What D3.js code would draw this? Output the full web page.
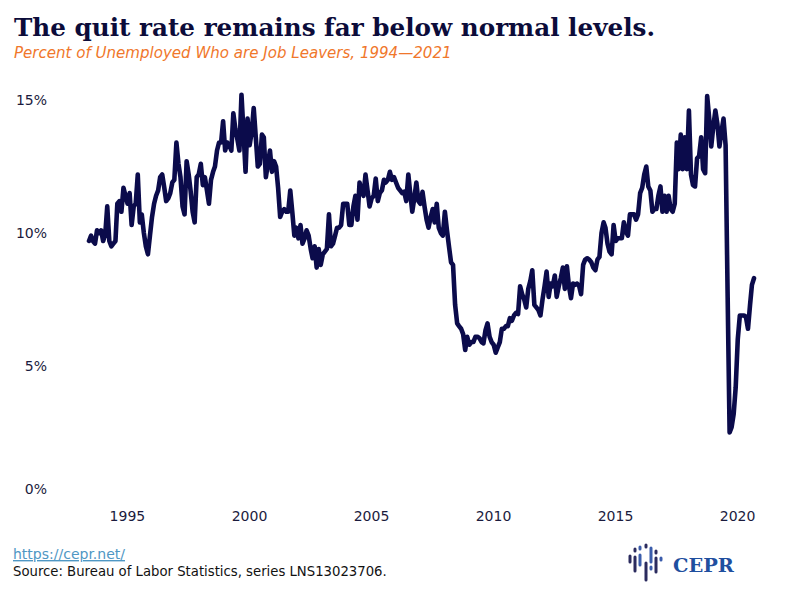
<!DOCTYPE html>
<html>
<head>
<meta charset="utf-8">
<script src="https://cdn.jsdelivr.net/npm/d3@7"></script>
<style>
  body { margin: 0; background: #fff; }
</style>
</head>
<body>
<div id="chart"></div>
<script>
// Job leavers as percent of unemployed, monthly from Jan 1994
var startDate = new Date(1994, 0, 1);
var quitRate = [
    9.7, 9.9, 9.7, 9.6, 10.1, 10.0, 10.1, 9.7, 9.95, 11.0, 9.7, 9.5,       // 1994
    9.6, 9.7, 11.1, 11.2, 10.8, 11.7, 11.4, 11.1, 11.5, 10.3, 11.0, 11.1,  // 1995
    12.2, 10.4, 10.7, 10.0, 9.5, 9.2, 9.9, 10.6, 11.1, 11.4, 11.6, 12.1,   // 1996
    12.2, 11.7, 11.2, 11.3, 11.5, 11.9, 12.0, 13.4, 12.6, 12.1, 11.0, 10.7, // 1997
    12.7, 12.2, 11.6, 10.8, 10.4, 12.1, 12.2, 12.6, 11.8, 12.1, 11.6, 11.1, // 1998
    12.0, 12.3, 12.5, 13.1, 13.4, 13.4, 14.2, 13.1, 13.4, 13.3, 13.1, 14.5, // 1999
    13.9, 13.5, 13.1, 15.2, 13.8, 12.3, 14.3, 13.3, 13.8, 14.7, 13.6, 12.5, // 2000
    12.6, 13.7, 13.6, 12.1, 12.6, 13.1, 12.3, 12.7, 12.5, 11.7, 10.6, 10.8, // 2001
    10.9, 10.8, 10.8, 11.6, 10.8, 9.9, 10.2, 9.8, 10.3, 9.6, 9.8, 10.1,    // 2002
    9.9, 9.4, 9.05, 9.5, 8.7, 9.4, 8.8, 9.2, 9.3, 9.4, 10.7, 9.5,          // 2003
    9.6, 9.9, 10.2, 10.2, 10.3, 11.1, 11.1, 11.1, 10.3, 10.3, 11.0, 11.4,  // 2004
    10.5, 11.9, 11.6, 11.4, 12.2, 11.6, 11.0, 11.3, 11.4, 12.05, 11.2, 11.5, // 2005
    11.6, 12.0, 11.9, 12.0, 12.3, 12.0, 12.1, 11.9, 11.7, 11.6, 11.5, 11.55, // 2006
    11.2, 12.2, 11.5, 10.8, 11.3, 11.9, 11.2, 11.1, 11.55, 11.0, 10.5, 10.2, // 2007
    10.6, 10.9, 10.4, 11.1, 10.2, 10.0, 9.9, 10.8, 10.1, 9.5, 8.9, 8.8,    // 2008
    7.3, 6.6, 6.5, 6.4, 6.2, 5.6, 6.1, 5.8, 5.9, 5.9, 6.1, 6.1,           // 2009
    6.05, 5.9, 5.85, 6.35, 6.6, 6.1, 5.9, 5.8, 5.5, 5.7, 5.9, 6.4,        // 2010
    6.4, 6.5, 6.5, 6.8, 6.7, 6.9, 7.0, 6.95, 8.0, 7.7, 7.5, 7.2,          // 2011
    7.9, 8.2, 8.6, 7.3, 7.2, 7.1, 6.9, 7.5, 8.0, 8.55, 7.6, 8.1,          // 2012
    8.0, 8.4, 7.6, 8.0, 8.3, 8.7, 7.9, 8.75, 8.0, 7.55, 8.1, 8.05,        // 2013
    8.1, 8.0, 7.7, 8.8, 9.0, 9.05, 9.0, 8.9, 8.7, 8.6, 9.0, 9.1,          // 2014
    10.0, 10.4, 10.2, 9.6, 9.3, 9.2, 10.3, 9.7, 9.8, 9.8, 9.8, 10.4,      // 2015
    10.05, 9.9, 10.7, 10.7, 10.7, 10.5, 10.7, 11.5, 11.7, 12.2, 12.5, 11.75, // 2016
    11.6, 10.8, 10.9, 10.9, 11.4, 11.75, 10.8, 11.4, 10.8, 11.4, 10.9, 10.8, // 2017
    11.1, 13.4, 12.4, 13.7, 12.4, 13.6, 12.4, 14.6, 12.2, 11.8, 11.75, 12.8, // 2018
    12.9, 13.6, 12.4, 12.25, 15.15, 14.3, 13.25, 14.0, 14.6, 14.1, 13.25, 13.8, // 2019
    14.3, 13.3, 7.9, 2.5, 2.7, 3.2, 4.2, 6.0, 6.9, 6.9, 6.9, 6.85,        // 2020
    6.4, 7.3, 8.05, 8.3                                                    // 2021
];
var yTicks = [0, 5, 10, 15];
var xTickYears = [1995, 2000, 2005, 2010, 2015, 2020];

var titleText = "The quit rate remains far below normal levels.";
var subtitleText = "Percent of Unemployed Who are Job Leavers, 1994\u20142021";
var linkText = "https://cepr.net/";
var sourceText = "Source: Bureau of Labor Statistics, series LNS13023706.";

// Chart size
var svgWidth = 800;
var svgHeight = 600;

var svg = d3.select("#chart")
    .append("svg")
    .attr("width", svgWidth)
    .attr("height", svgHeight)
    .style("display", "block");

svg.append("rect")
    .attr("width", svgWidth)
    .attr("height", svgHeight)
    .attr("fill", "#fff");

// Build the monthly series
var series = quitRate.map(function(v, i) {
    return { date: d3.timeMonth.offset(startDate, i), value: v };
});

// Scales
var xScale = d3.scaleTime()
    .domain([startDate, series[series.length - 1].date])
    .range([89, 754]);

var yScale = d3.scaleLinear()
    .domain([0, 15])
    .range([499, 100]);

// shrink or grow a text so it spans a given width
function fitWidth(sel, target) {
    var size = parseFloat(sel.attr("font-size"));
    var len = sel.node().getComputedTextLength();
    sel.attr("font-size", (size * target / len).toFixed(2));
}

// Title and subtitle
svg.append("text")
    .attr("x", 14)
    .attr("y", 36)
    .attr("font-family", "DejaVu Serif")
    .attr("font-weight", "bold")
    .attr("font-size", 24.7)
    .attr("textLength", 641)
    .attr("lengthAdjust", "spacingAndGlyphs")
    .attr("fill", "#0c0c3a")
    .text(titleText);

var subtitle = svg.append("text")
    .attr("x", 14)
    .attr("y", 57.5)
    .attr("font-family", "DejaVu Sans")
    .attr("font-style", "italic")
    .attr("font-size", 14)
    .attr("fill", "#f0772b")
    .text(subtitleText);
fitWidth(subtitle, 438);

// Y axis labels (no line, no grid)
var yAxis = d3.axisLeft(yScale)
    .tickValues(yTicks)
    .tickFormat(function(d) { return d + "%"; })
    .tickSize(0)
    .tickPadding(0);

var yAxisGroup = svg.append("g")
    .attr("transform", "translate(47,0)")
    .call(yAxis);
yAxisGroup.select(".domain").remove();
yAxisGroup.selectAll("text")
    .attr("font-family", "DejaVu Sans")
    .attr("font-size", 14)
    .attr("fill", "#1b1b3d")
    .attr("dy", function(d) { return d === 0 ? "-0.38em" : "0.35em"; });

// X axis labels
var xAxis = d3.axisBottom(xScale)
    .tickValues(xTickYears.map(function(y) { return new Date(y, 6, 22); }))
    .tickFormat(d3.timeFormat("%Y"))
    .tickSize(0)
    .tickPadding(0);

var xAxisGroup = svg.append("g")
    .attr("transform", "translate(0,510)")
    .call(xAxis);
xAxisGroup.select(".domain").remove();
xAxisGroup.selectAll("text")
    .attr("font-family", "DejaVu Sans")
    .attr("font-size", 14)
    .attr("fill", "#1b1b3d")
    .attr("dy", "0.79em");

// The line
var line = d3.line()
    .x(function(d) { return xScale(d.date); })
    .y(function(d) { return yScale(d.value); });

svg.append("path")
    .datum(series)
    .attr("d", line)
    .attr("fill", "none")
    .attr("stroke", "#0b0b4b")
    .attr("stroke-width", 4.6)
    .attr("stroke-linejoin", "round")
    .attr("stroke-linecap", "round");

// Footer
var link = svg.append("text")
    .attr("x", 13)
    .attr("y", 559)
    .attr("font-family", "DejaVu Sans")
    .attr("font-size", 13)
    .attr("fill", "#4f97c4")
    .attr("text-decoration", "underline")
    .text(linkText);
fitWidth(link, 112);

var source = svg.append("text")
    .attr("x", 13)
    .attr("y", 576)
    .attr("font-family", "DejaVu Sans")
    .attr("font-size", 13)
    .attr("fill", "#111")
    .text(sourceText);
fitWidth(source, 374);

// CEPR logo: little bars and dots plus the word
var logoBars = [
    { x: 630, y1: 556, y2: 562, c: "#2b2b5e" },
    { x: 635, y1: 549, y2: 551, c: "#2b2b5e" },
    { x: 635, y1: 557, y2: 571, c: "#2b2b5e" },
    { x: 640, y1: 547, y2: 549, c: "#3a5cab" },
    { x: 640, y1: 555, y2: 565, c: "#3a5cab" },
    { x: 646, y1: 545, y2: 547, c: "#2b2b5e" },
    { x: 646, y1: 563, y2: 580, c: "#2b2b5e" },
    { x: 651, y1: 548, y2: 562, c: "#3a5cab" },
    { x: 651, y1: 567, y2: 569, c: "#3a5cab" },
    { x: 656, y1: 551, y2: 553, c: "#2b2b5e" },
    { x: 656, y1: 558, y2: 572, c: "#2b2b5e" },
    { x: 661, y1: 558, y2: 560, c: "#3a5cab" }
];
svg.append("g")
    .selectAll("line")
    .data(logoBars)
    .enter()
    .append("line")
    .attr("x1", function(d) { return d.x; })
    .attr("x2", function(d) { return d.x; })
    .attr("y1", function(d) { return d.y1; })
    .attr("y2", function(d) { return d.y2; })
    .attr("stroke", function(d) { return d.c; })
    .attr("stroke-width", 3)
    .attr("stroke-linecap", "round");

var logoText = svg.append("text")
    .attr("x", 673)
    .attr("y", 572)
    .attr("font-family", "DejaVu Serif")
    .attr("font-weight", "bold")
    .attr("font-size", 21)
    .attr("fill", "#1f4f9f")
    .text("CEPR");
fitWidth(logoText, 61);
</script>
</body>
</html>
